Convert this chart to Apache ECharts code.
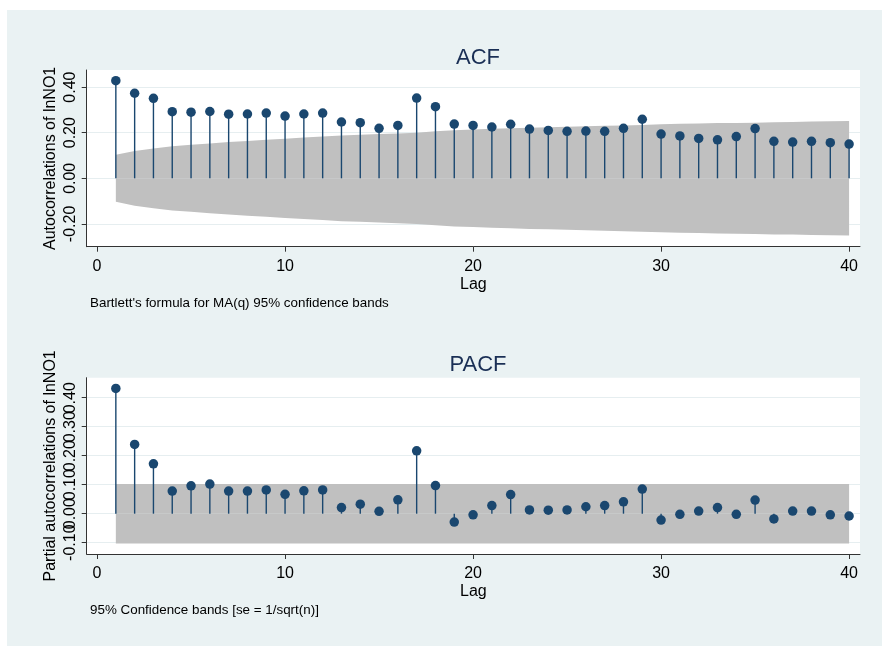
<!DOCTYPE html>
<html><head><meta charset="utf-8">
<script src="https://cdn.jsdelivr.net/npm/echarts@6/dist/echarts.min.js"></script>
<style>html,body{margin:0;padding:0;background:#fff}#c{width:882px;height:646px}</style>
</head><body><div id="c"></div>
<script>
const lags = [1,2,3,4,5,6,7,8,9,10,11,12,13,14,15,16,17,18,19,20,21,22,23,24,25,26,27,28,29,30,31,32,33,34,35,36,37,38,39,40];
const acfValues = [0.428,0.373,0.351,0.292,0.290,0.293,0.281,0.282,0.286,0.273,0.282,0.286,0.247,0.244,0.219,0.232,0.352,0.314,0.238,0.232,
  0.225,0.237,0.216,0.210,0.206,0.207,0.206,0.219,0.259,0.194,0.186,0.175,0.169,0.183,0.218,0.162,0.159,0.162,0.156,0.150];
const acfBand = [0.103,0.120,0.131,0.141,0.147,0.153,0.159,0.164,0.169,0.174,0.179,0.183,0.188,0.191,0.194,0.197,0.200,0.206,0.211,0.214,
  0.217,0.219,0.222,0.224,0.226,0.228,0.230,0.232,0.234,0.237,0.239,0.240,0.242,0.243,0.244,0.246,0.247,0.249,0.250,0.251];
const pacfValues = [0.432,0.239,0.172,0.078,0.096,0.102,0.078,0.078,0.082,0.067,0.079,0.082,0.021,0.033,0.008,0.048,0.217,0.097,-0.029,-0.004,
  0.028,0.066,0.013,0.012,0.013,0.024,0.028,0.041,0.085,-0.022,-0.002,0.009,0.021,-0.002,0.047,-0.018,0.009,0.009,-0.004,-0.008];
const pacfBand = [0.1025,0.1025,0.1025,0.1025,0.1025,0.1025,0.1025,0.1025,0.1025,0.1025,0.1025,0.1025,0.1025,0.1025,0.1025,0.1025,0.1025,0.1025,0.1025,0.1025,
  0.1025,0.1025,0.1025,0.1025,0.1025,0.1025,0.1025,0.1025,0.1025,0.1025,0.1025,0.1025,0.1025,0.1025,0.1025,0.1025,0.1025,0.1025,0.1025,0.1025];
const xTicks = [0,10,20,30,40];
const acfTicks = [-0.2,0,0.2,0.4];
const pacfTicks = [-0.1,0,0.1,0.2,0.3,0.4];
const pacfTicksA = [0,0.2,0.4];
const pacfTicksB = [-0.1,0.1,0.3];

const FONT = '"Liberation Sans", Arial, sans-serif';
const NAVY = '#1a476f';
const BG = '#eaf2f3';
const AXC = '#333333';

function pairs(vals){ return lags.map((l,i)=>[l, vals[i]]); }
function neg(vals){ return lags.map((l,i)=>[l, -vals[i]]); }

function xAxis(gi){
  return {
    type:'value', gridIndex:gi, min:-0.55, max:40.58,
    name:'Lag', nameLocation:'middle', nameGap:30, nameMoveOverlap:false,
    nameTextStyle:{fontFamily:FONT,fontSize:16,color:'#000'},
    axisLine:{show:true,onZero:false,lineStyle:{color:AXC,width:1}},
    axisTick:{show:true,length:5,customValues:xTicks,lineStyle:{color:AXC}},
    axisLabel:{customValues:xTicks,fontFamily:FONT,fontSize:16,color:'#000',margin:12,hideOverlap:false},
    splitLine:{show:false}
  };
}
function yAxis(gi,min,max,ticks,labelTicks,name){
  return {
    type:'value', gridIndex:gi, min:min, max:max, position:'left', offset:0,
    name:name, nameLocation:'middle', nameGap:28, nameRotate:90, nameMoveOverlap:false,
    nameTextStyle:{fontFamily:FONT,fontSize:16,color:'#000'},
    axisLine:{show:true,onZero:false,lineStyle:{color:AXC,width:1}},
    axisTick:{show:true,length:5,customValues:ticks,lineStyle:{color:AXC}},
    axisLabel:{customValues:labelTicks,rotate:90,fontFamily:FONT,fontSize:16,color:'#000',margin:8,
      hideOverlap:false,showMinLabel:true,showMaxLabel:true,
      formatter:v=>v.toFixed(2)},
    splitLine:{show:true,lineStyle:{color:'#e6eef0',width:1.2}}
  };
}
function labelAxis(gi,min,max,labelTicks){
  return {
    type:'value', gridIndex:gi, min:min, max:max, position:'left', offset:0,
    axisLine:{show:false,onZero:false}, axisTick:{show:false},
    axisLabel:{customValues:labelTicks,rotate:90,fontFamily:FONT,fontSize:16,color:'#000',margin:8,
      hideOverlap:false,showMinLabel:true,showMaxLabel:true,
      formatter:v=>v.toFixed(2)},
    splitLine:{show:false}
  };
}
function bandSeries(xi,yi,data){
  return {type:'line',xAxisIndex:xi,yAxisIndex:yi,data:data,symbol:'none',silent:true,
    lineStyle:{width:0,color:'#c0c0c0'},areaStyle:{color:'#c0c0c0',opacity:1},z:1,animation:false};
}
function stemSeries(xi,yi,data){
  return {type:'bar',xAxisIndex:xi,yAxisIndex:yi,data:data,barWidth:1.4,itemStyle:{color:NAVY},z:3,animation:false};
}
function dotSeries(xi,yi,data){
  return {type:'scatter',xAxisIndex:xi,yAxisIndex:yi,data:data,symbol:'circle',symbolSize:9.5,
    itemStyle:{color:NAVY,opacity:1},z:4,animation:false};
}

const chart = echarts.init(document.getElementById('c'),null,{renderer:'canvas'});
chart.setOption({
  backgroundColor:'#ffffff',
  animation:false,
  graphic:[
    {type:'rect',shape:{x:7,y:10,width:875,height:636},style:{fill:BG},z:-10,silent:true},
    {type:'text',left:90,top:297,style:{text:"Bartlett's formula for MA(q) 95% confidence bands",font:'13.4px '+FONT,fill:'#000'}},
    {type:'text',left:90,top:604,style:{text:'95% Confidence bands [se = 1/sqrt(n)]',font:'13.4px '+FONT,fill:'#000'}}
  ],
  title:[
    {text:'ACF',left:473,top:42,textAlign:'center',textStyle:{fontFamily:FONT,fontSize:22,fontWeight:'normal',color:'#1a2f55'}},
    {text:'PACF',left:473,top:349,textAlign:'center',textStyle:{fontFamily:FONT,fontSize:22,fontWeight:'normal',color:'#1a2f55'}}
  ],
  grid:[
    {left:86.7,top:70,width:773.3,height:176.7,show:true,backgroundColor:'#fff',borderWidth:0,containLabel:false},
    {left:86.7,top:377.7,width:773.3,height:176.3,show:true,backgroundColor:'#fff',borderWidth:0,containLabel:false}
  ],
  xAxis:[xAxis(0),xAxis(1)],
  yAxis:[yAxis(0,-0.30,0.475,acfTicks,acfTicks,'Autocorrelations of lnNO1'),
         yAxis(1,-0.139,0.469,pacfTicks,pacfTicksA,'Partial autocorrelations of lnNO1'),
         labelAxis(1,-0.139,0.469,pacfTicksB)],
  series:[
    bandSeries(0,0,pairs(acfBand)), bandSeries(0,0,neg(acfBand)),
    stemSeries(0,0,pairs(acfValues)), dotSeries(0,0,pairs(acfValues)),
    bandSeries(1,1,pairs(pacfBand)), bandSeries(1,1,neg(pacfBand)),
    stemSeries(1,1,pairs(pacfValues)), dotSeries(1,1,pairs(pacfValues))
  ]
});
</script></body></html>
